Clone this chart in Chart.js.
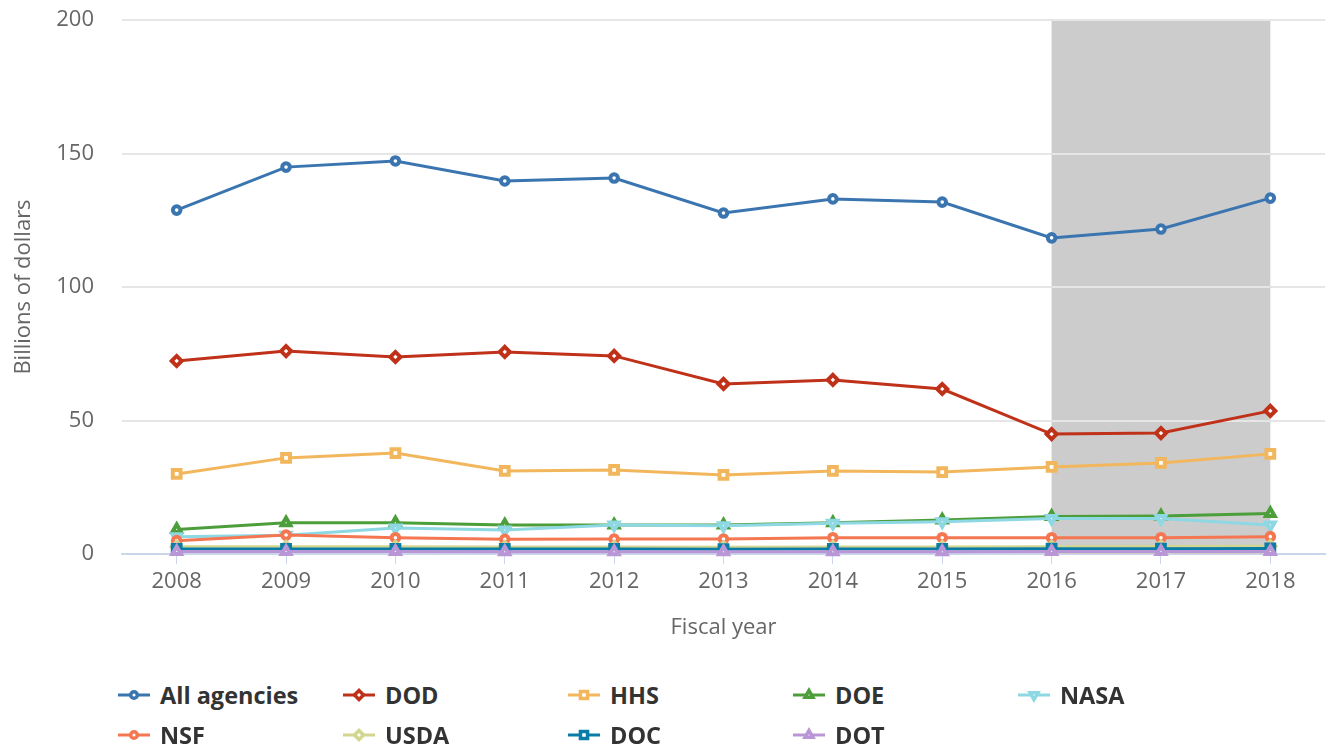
<!DOCTYPE html>
<html>
<head>
<meta charset="utf-8">
<script src="https://cdn.jsdelivr.net/npm/chart.js@4/dist/chart.umd.min.js"></script>
<style>
  html, body { margin: 0; background: #fff; font-family: 'Open Sans', sans-serif; overflow: hidden; }
  #wrap { position: relative; width: 1326px; height: 660px; }
  #legend { position: absolute; left: 117px; top: 681px; display: grid;
            grid-template-columns: repeat(5, 225px); row-gap: 12px; }
  .item { display: flex; align-items: center; height: 28px; font-weight: 700;
          font-size: 23.5px; color: #333; }
  .item canvas { margin-right: 9px; }
</style>
</head>
<body>
<div id="wrap"><canvas id="rd"></canvas></div>
<div id="legend"></div>
<script>
// fiscal years and shaded range
const years = ['2008', '2009', '2010', '2011', '2012', '2013', '2014', '2015', '2016', '2017', '2018'];
const shadedYears = ['2016', '2018'];

// billions of dollars
const allAgencies = [128.8, 144.9, 147.2, 139.7, 140.8, 127.7, 133.0, 131.8, 118.4, 121.7, 133.3];
const dod  = [72.3, 76.0, 73.8, 75.7, 74.2, 63.7, 65.2, 61.8, 44.9, 45.3, 53.6];
const hhs  = [30.0, 36.0, 37.8, 31.1, 31.5, 29.6, 31.1, 30.7, 32.6, 34.1, 37.5];
const doe  = [9.2, 11.7, 11.7, 10.9, 10.9, 10.9, 11.7, 12.7, 14.0, 14.2, 15.2];
const nasa = [6.5, 7.0, 9.7, 9.0, 10.9, 10.6, 11.5, 12.1, 13.3, 13.3, 10.9];
const nsf  = [5.0, 7.1, 6.1, 5.5, 5.6, 5.6, 6.1, 6.1, 6.1, 6.1, 6.5];
const usda = [2.7, 2.7, 2.7, 2.6, 2.6, 2.5, 2.6, 2.6, 2.7, 2.8, 2.9];
const doc  = [1.9, 1.9, 1.9, 1.9, 1.9, 1.8, 1.9, 1.9, 2.0, 2.0, 2.1];
const dot  = [0.9, 0.9, 0.9, 0.8, 0.8, 0.8, 0.8, 0.8, 0.9, 0.9, 0.9];

const seriesNames = ['All agencies', 'DOD', 'HHS', 'DOE', 'NASA', 'NSF', 'USDA', 'DOC', 'DOT'];
const seriesData = [allAgencies, dod, hhs, doe, nasa, nsf, usda, doc, dot];
const seriesColors = ['#3a75b0', '#c0311a', '#f2b65c', '#4c9e3a', '#8dd8e3', '#f47752', '#d3d68f', '#0a7ca8', '#b996d6'];
const seriesMarkers = ['circle', 'rectRot', 'rect', 'triangle', 'triangle', 'circle', 'rectRot', 'rect', 'triangle'];
const markerRotation = [0, 0, 0, 0, 180, 0, 0, 0, 0];
const markerRadius = [3.8, 5, 5.5, 5, 5, 3.8, 5, 5.5, 5];

const bandPlugin = {
	id: 'band',
	beforeDatasetsDraw(chart) {
		const { ctx, chartArea, scales: { x, y } } = chart;
		const x0 = x.getPixelForValue(years.indexOf(shadedYears[0]));
		const x1 = x.getPixelForValue(years.indexOf(shadedYears[1]));
		ctx.save();
		ctx.fillStyle = '#cccccc';
		ctx.fillRect(x0, chartArea.top, x1 - x0, chartArea.bottom - chartArea.top);
		// grid lines sit on top of the band
		ctx.strokeStyle = '#e6e6e6';
		ctx.lineWidth = 2;
		y.ticks.forEach(t => {
			if (t.value === 0) return;
			const py = Math.round(y.getPixelForValue(t.value));
			ctx.beginPath();
			ctx.moveTo(x0, py);
			ctx.lineTo(x1, py);
			ctx.stroke();
		});
		ctx.restore();
	}
};

const datasets = seriesNames.map((name, i) => ({
	label: name,
	data: seriesData[i],
	borderColor: seriesColors[i],
	backgroundColor: seriesColors[i],
	borderWidth: 3,
	tension: 0,
	pointStyle: seriesMarkers[i],
	pointRotation: markerRotation[i],
	pointRadius: markerRadius[i],
	pointBorderWidth: 4,
	pointBackgroundColor: '#ffffff',
	pointBorderColor: seriesColors[i],
	clip: false,
	order: seriesNames.length - i
}));

Chart.defaults.font.family = "'Open Sans', sans-serif";
Chart.defaults.color = '#666666';

const ctx = document.getElementById('rd').getContext('2d');
const chart = new Chart(ctx, {
	type: 'line',
	data: { labels: years, datasets },
	options: {
		responsive: true,
		maintainAspectRatio: false,
		animation: false,
		layout: { autoPadding: false, padding: { top: 20, right: 1, left: 0, bottom: 0 } },
		plugins: { legend: { display: false }, tooltip: { enabled: false } },
		scales: {
			x: {
				offset: true,
				grid: { drawOnChartArea: false, drawTicks: true, tickLength: 10, color: '#ccd6eb', lineWidth: 1 },
				border: { display: true, color: '#ccd6eb', width: 2 },
				ticks: { font: { size: 22 }, color: '#666666', padding: 5, maxRotation: 0 },
				title: { display: true, text: 'Fiscal year', font: { size: 22 }, color: '#666666', padding: { top: 13, bottom: 19 } },
				afterFit(scale) {
					scale.height = 106;
					scale.paddingLeft = 0;
					scale.paddingRight = 0;
				}
			},
			y: {
				min: 0,
				max: 200,
				ticks: { stepSize: 50, font: { size: 22 }, color: '#666666', padding: 28 },
				grid: { color: '#e6e6e6', lineWidth: 2, drawTicks: false },
				border: { display: false },
				title: { display: true, text: 'Billions of dollars', font: { size: 22 }, color: '#666666', padding: { top: 11, bottom: 0 } },
				afterFit(scale) {
					scale.width = 122;
					scale.paddingTop = 0;
					scale.paddingBottom = 0;
				}
			}
		}
	},
	plugins: [bandPlugin]
});

// html legend, five fixed columns
const legend = document.getElementById('legend');
seriesNames.forEach((name, i) => {
	const item = document.createElement('div');
	item.className = 'item';
	const c = document.createElement('canvas');
	c.width = 34; c.height = 20;
	const g = c.getContext('2d');
	g.strokeStyle = seriesColors[i];
	g.lineWidth = 3;
	g.beginPath(); g.moveTo(1, 10); g.lineTo(33, 10); g.stroke();
	g.fillStyle = '#ffffff';
	g.lineWidth = 3.5;
	Chart.helpers.drawPoint(g, { pointStyle: seriesMarkers[i], rotation: markerRotation[i], radius: markerRadius[i] - 0.5, borderWidth: 3.5 }, 17, 10);
	item.appendChild(c);
	const s = document.createElement('span');
	s.textContent = name;
	item.appendChild(s);
	legend.appendChild(item);
});
</script>
</body>
</html>
